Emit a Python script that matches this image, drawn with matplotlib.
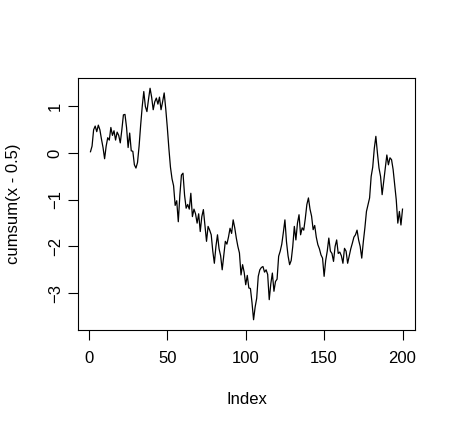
import numpy as np
import matplotlib
matplotlib.use("Agg")
import matplotlib.pyplot as plt

# Data: cumsum(x - 0.5)
# -------------------------------------------
cumsum_vals = [
    0.03, 0.15, 0.50, 0.58, 0.46, 0.60, 0.50, 0.30, 0.12, -0.12,
    0.15, 0.33, 0.28, 0.55, 0.38, 0.48, 0.28, 0.45, 0.38, 0.22,
    0.50, 0.82, 0.83, 0.55, 0.12, 0.43, 0.05, 0.04, -0.25, -0.32,
    -0.20, 0.15, 0.60, 1.00, 1.32, 1.00, 0.89, 1.15, 1.39, 1.20,
    0.93, 1.10, 1.18, 1.05, 1.20, 0.93, 1.10, 1.29, 0.95, 0.55,
    0.10, -0.30, -0.55, -0.70, -1.12, -1.02, -1.47, -0.90, -0.47, -0.43,
    -0.90, -1.18, -1.10, -1.20, -0.86, -1.36, -1.20, -1.30, -1.50, -1.30,
    -1.68, -1.36, -1.21, -1.55, -1.89, -1.57, -1.65, -1.75, -2.10, -2.36,
    -2.00, -1.75, -2.05, -2.20, -2.50, -2.20, -1.89, -1.95, -1.80, -1.61,
    -1.72, -1.43, -1.60, -1.82, -2.00, -2.14, -2.61, -2.39, -2.55, -2.82,
    -2.62, -2.89, -2.90, -3.20, -3.57, -3.30, -3.11, -2.64, -2.50, -2.45,
    -2.43, -2.55, -2.50, -2.60, -3.14, -2.80, -2.57, -2.96, -2.75, -2.70,
    -2.21, -2.10, -1.95, -1.70, -1.43, -1.90, -2.20, -2.39, -2.30, -2.00,
    -1.57, -1.86, -1.50, -1.32, -1.75, -1.60, -1.65, -1.40, -1.10, -0.96,
    -1.20, -1.35, -1.64, -1.55, -1.80, -1.96, -2.05, -2.18, -2.25, -2.64,
    -2.30, -2.10, -1.82, -2.10, -2.15, -2.32, -2.00, -1.86, -2.15, -2.12,
    -2.20, -2.36, -2.04, -2.10, -2.36, -2.20, -2.05, -1.93, -1.80, -1.75,
    -1.65, -1.86, -2.00, -2.25, -1.90, -1.60, -1.25, -1.10, -0.96, -0.50,
    -0.30, 0.10, 0.36, 0.00, -0.32, -0.50, -0.89, -0.60, -0.30, -0.04,
    -0.25, -0.10, -0.14, -0.35, -0.68, -1.00, -1.50, -1.25, -1.54, -1.20,
]
index = np.arange(1, len(cumsum_vals) + 1)

x_ticks = [0, 50, 100, 150, 200]
y_ticks = [-3, -2, -1, 0, 1]

plt.rcParams["font.family"] = ["Liberation Sans", "DejaVu Sans"]

fig = plt.figure(figsize=(4.55, 4.29), dpi=100)
ax = fig.add_axes([78 / 455, 1 - 330 / 429, 337 / 455, 252 / 429])

ax.plot(index, cumsum_vals, color="black", linewidth=0.9)

ax.set_xlim(-6.96, 207.96)
ax.set_ylim(-3.79, 1.61)

ax.set_xticks(x_ticks)
ax.set_yticks(y_ticks)
ax.tick_params(axis="both", direction="out", length=7, width=0.8,
               labelsize=12, colors="black")
ax.tick_params(axis="x", pad=8)
ax.tick_params(axis="y", pad=4)
for lab in ax.get_yticklabels():
    lab.set_rotation(90)
    lab.set_va("center")

for sp in ax.spines.values():
    sp.set_linewidth(0.8)
    sp.set_color("black")

ax.set_xlabel("Index", fontsize=12, va="center")
ax.xaxis.set_label_coords(0.5, -(399 - 330) / 252)
ax.set_ylabel("cumsum(x - 0.5)", fontsize=12, va="center")
ax.yaxis.set_label_coords((13.5 - 78) / 337, 0.5)

fig.savefig("out.png", dpi=100)
